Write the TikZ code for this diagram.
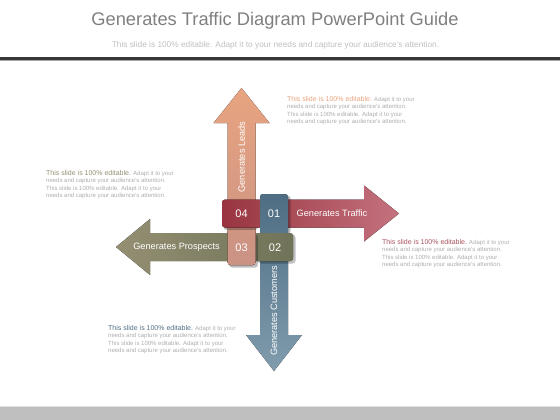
\documentclass[tikz,border=0pt]{standalone}
\usepackage{fontspec}
\setmainfont{Liberation Sans}
\definecolor{leadsTop}{HTML}{E8A480}
\definecolor{leadsBot}{HTML}{CA9284}
\definecolor{trafficL}{HTML}{98343F}
\definecolor{trafficR}{HTML}{C4727F}
\definecolor{custTop}{HTML}{4E6D83}
\definecolor{custBot}{HTML}{809CAD}
\definecolor{prospL}{HTML}{958F73}
\definecolor{prospR}{HTML}{6F7357}
\definecolor{noteGray}{HTML}{ADADAD}
\definecolor{titleGray}{HTML}{7F7F7F}
\tikzset{
  arrow label/.style={text=white, inner sep=0pt, font=\fontsize{9.2}{10}\selectfont},
  num label/.style={text=white, inner sep=0pt, font=\fontsize{11}{12}\selectfont},
  note/.style={anchor=north west, align=left, inner sep=0pt, text=noteGray,
    font=\fontsize{6}{7.4}\selectfont},
  tile shadow/.style={fill=black, opacity=0.25},
}
% the four arrows, tail end rounded
\newcommand{\leadsarrow}[1]{\fill[#1] (241.5,88) -- (269.5,123) -- (255.5,123)
  [rounded corners=3pt] -- (255.5,265) -- (227.5,265) [sharp corners]
  -- (227.5,123) -- (213.5,123) -- cycle;}
\newcommand{\trafficarrow}[1]{\fill[#1] (399,213.5) -- (364,241.5) -- (364,227.5)
  [rounded corners=3pt] -- (222,227.5) -- (222,199.5) [sharp corners]
  -- (364,199.5) -- (364,185.5) -- cycle;}
\newcommand{\custarrow}[1]{\fill[#1] (274,371) -- (246,335) -- (260,335)
  [rounded corners=3pt] -- (260,194) -- (288,194) [sharp corners]
  -- (288,335) -- (302,335) -- cycle;}
\newcommand{\prosparrow}[1]{\fill[#1] (116,247) -- (150,219) -- (150,233)
  [rounded corners=3pt] -- (293,233) -- (293,261) [sharp corners]
  -- (150,261) -- (150,275) -- cycle;}

\begin{document}
\begin{tikzpicture}[x=1pt, y=-1pt]
\useasboundingbox (0,0) rectangle (560,420);

% heading
\node[text=titleGray, font=\fontsize{18.3}{20}\selectfont] (title) at (275,21)
  {Generates Traffic Diagram PowerPoint Guide};
\node[text=black!25, font=\fontsize{8.3}{9}\selectfont] (subtitle) at (275.5,45)
  {This slide is 100\% editable.  Adapt it to your needs and capture your audience's attention.};
\fill[black!78] (0,57.2) rectangle (560,59.6);
\fill[black!35] (0,59.6) rectangle (560,60.8);

% bottom bar
\fill[black!12] (0,405.5) rectangle (560,407);
\fill[black!25] (0,407) rectangle (560,420);

% arrows, woven
\leadsarrow{top color=leadsTop, bottom color=leadsBot}
\fill[tile shadow, rounded corners=3pt] (223.5,201) rectangle (258,230);
\trafficarrow{left color=trafficL, right color=trafficR}
\fill[tile shadow, rounded corners=3pt] (261.5,195.5) rectangle (290.5,234);
\custarrow{top color=custTop, bottom color=custBot}
\fill[tile shadow, rounded corners=3pt] (258,234.5) rectangle (295.5,263.5);
\prosparrow{left color=prospL, right color=prospR}
\fill[tile shadow, rounded corners=3pt] (229,234.5) rectangle (258,267.5);
\begin{scope}
  \clip (225,231.5) rectangle (258,268);
  \leadsarrow{top color=leadsTop, bottom color=leadsBot}
\end{scope}

% labels on the arrows
\node[arrow label, rotate=90] (leads) at (241.5,157) {Generates Leads};
\node[arrow label] (traffic) at (332,213.5) {Generates Traffic};
\node[arrow label, rotate=90] (customers) at (274,311) {Generates Customers};
\node[arrow label] (prospects) at (176.5,247) {Generates Prospects};

\node[num label] (n04) at (241.5,213.5) {04};
\node[num label] (n01) at (274,213.5) {01};
\node[num label] (n03) at (241.5,247.5) {03};
\node[num label] (n02) at (275,247.5) {02};

% notes
\node[note] (noteLeads) at (287,96)
  {{\color{leadsTop}\fontsize{7}{7.4}\selectfont This slide is 100\% editable.} Adapt it to your\\
   needs and capture your audience's attention.\\
   This slide is 100\% editable.  Adapt it to your\\
   needs and capture your audience's attention.};
\node[note] (noteProsp) at (46,170)
  {{\color{prospL}\fontsize{7}{7.4}\selectfont This slide is 100\% editable.} Adapt it to your\\
   needs and capture your audience's attention.\\
   This slide is 100\% editable.  Adapt it to your\\
   needs and capture your audience's attention.};
\node[note] (noteTraffic) at (382,239)
  {{\color{trafficL!85!white}\fontsize{7}{7.4}\selectfont This slide is 100\% editable.} Adapt it to your\\
   needs and capture your audience's attention.\\
   This slide is 100\% editable.  Adapt it to your\\
   needs and capture your audience's attention.};
\node[note] (noteCust) at (108,325)
  {{\color{custTop}\fontsize{7}{7.4}\selectfont This slide is 100\% editable.} Adapt it to your\\
   needs and capture your audience's attention.\\
   This slide is 100\% editable.  Adapt it to your\\
   needs and capture your audience's attention.};

\end{tikzpicture}
\end{document}
